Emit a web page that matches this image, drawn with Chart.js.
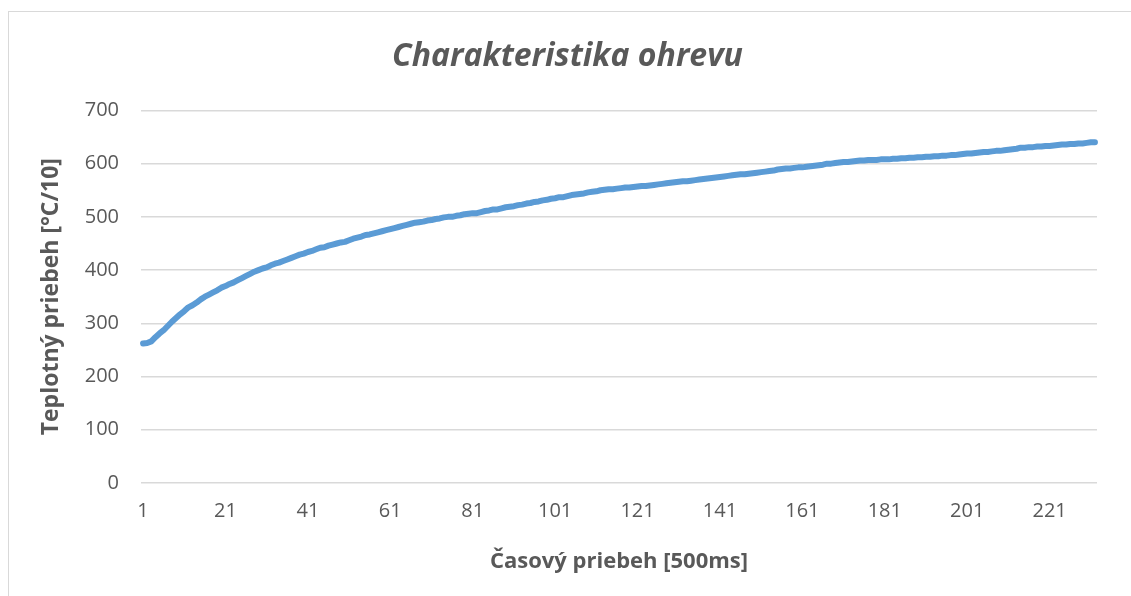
<!DOCTYPE html>
<html>
<head>
<meta charset="utf-8">
<script src="https://cdn.jsdelivr.net/npm/chart.js@4.4.1/dist/chart.umd.min.js"></script>
<style>
html,body{margin:0;padding:0;background:#fff;overflow:hidden;}
#wrap{position:relative;width:1131px;height:596px;}
#frame{position:absolute;left:8px;top:11px;width:1130px;height:600px;border:1.5px solid #d9d9d9;box-sizing:border-box;}
canvas{position:absolute;left:0;top:0;}
</style>
</head>
<body>
<div id="wrap">
<div id="frame"></div>
<canvas id="graf" width="1131" height="596"></canvas>
</div>
<script>
// teplota (°C/10) odcitana z grafu, jedna hodnota na kazdych 500 ms
const teploty = [
262,263,266,274,281,287,295,303,310,317,
323,330,334,339,345,350,354,358,362,367,
370,374,377,381,385,389,393,397,400,403,
405,409,412,414,417,420,423,426,429,431,
434,436,439,442,443,446,448,450,452,453,
456,459,461,463,466,467,469,471,473,475,
477,479,481,483,485,487,489,490,491,493,
494,496,497,499,500,500,502,503,505,506,
507,507,509,511,512,514,514,516,518,519,
520,522,523,525,526,528,529,531,532,534,
535,537,537,539,541,542,543,544,546,547,
548,550,551,552,552,553,554,555,555,556,
557,558,558,559,560,561,562,563,564,565,
566,567,567,568,569,570,571,572,573,574,
575,576,577,578,579,580,580,581,582,583,
584,585,586,587,589,590,591,591,592,593,
593,594,595,596,597,598,600,600,601,602,
603,603,604,605,606,606,607,607,607,608,
608,608,609,609,610,610,611,611,612,612,
613,613,614,614,615,615,616,616,617,618,
619,619,620,621,622,622,623,624,624,625,
626,627,628,630,630,631,631,632,632,633,
633,634,635,636,636,637,637,638,638,639,
640,640
];

// poradove cisla vzoriek 1..N
const vzorky = teploty.map((t,i)=>String(i+1));

const xPopisky = ["1","21","41","61","81","101","121","141","161","181","201","221"];
const yPopisky = [0,100,200,300,400,500,600,700];

const sivaText = "#595959";
const font = "'Open Sans', 'DejaVu Sans', sans-serif";

new Chart(document.getElementById("graf"),{
type:"line",
data:{
labels:vzorky,
datasets:[{
data:teploty,
borderColor:"#5b9bd5",
borderWidth:6,
borderCapStyle:"round",
borderJoinStyle:"round",
pointRadius:0,
tension:0
}]
},
options:{
responsive:false,
animation:false,
layout:{padding:{left:38,right:34,top:11,bottom:21}},
plugins:{
legend:{display:false},
tooltip:{enabled:false},
title:{
display:true,
text:"Charakteristika ohrevu",
color:sivaText,
font:{family:font,size:32,style:"italic"},
padding:{top:27,bottom:34}
}
},
scales:{
x:{
offset:true,
grid:{display:false,drawTicks:false},
border:{display:false},
ticks:{
autoSkip:false,
maxRotation:0,
padding:16,
color:sivaText,
font:{family:font,size:20},
callback:function(v,i){
const l=this.getLabelForValue(v);
return xPopisky.includes(l)?l:"";
}
},
title:{
display:true,
text:"Časový priebeh [500ms]",
color:sivaText,
font:{family:font,size:22,weight:"bold"},
padding:{top:4,bottom:0}
},
afterFit:s=>{s.height=92;}
},
y:{
min:yPopisky[0],
max:yPopisky[yPopisky.length-1],
grid:{color:"#d9d9d9",lineWidth:1.5,drawTicks:false},
border:{display:false},
afterBuildTicks:s=>{s.ticks=yPopisky.map(v=>({value:v}));},
ticks:{
padding:22,
color:sivaText,
font:{family:font,size:20}
},
title:{
display:true,
text:"Teplotný priebeh [°C/10]",
color:sivaText,
font:{family:font,size:23,weight:"bold"},
padding:{top:0,bottom:0}
},
afterFit:s=>{s.width=103;}
}
}
}
});
</script>
</body>
</html>
